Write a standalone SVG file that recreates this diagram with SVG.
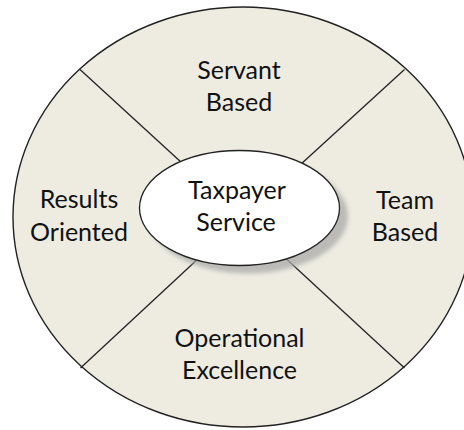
<svg xmlns="http://www.w3.org/2000/svg" width="464" height="430" viewBox="0 0 464 430">
  <defs>
    <filter id="blur" x="-20%" y="-20%" width="140%" height="140%">
      <feGaussianBlur stdDeviation="2"/>
    </filter>
  </defs>
  <style>
    .lbl { font-family: Lato, "Open Sans", "Liberation Sans", sans-serif; font-size: 25px; fill: #111; text-anchor: middle; }
    .edge { stroke: #222; stroke-width: 1.3; fill: none; }
  </style>
  <rect width="464" height="430" fill="#ffffff"/>
  <g id="outer">
    <ellipse cx="243" cy="217" rx="230" ry="210" fill="#EEECE1" stroke="#222" stroke-width="1.4"/>
  </g>
  <g id="connectors">
    <line class="edge" x1="80" y1="69.5" x2="242" y2="218"/>
    <line class="edge" x1="404.5" y1="69.5" x2="242" y2="218"/>
    <line class="edge" x1="80.5" y1="368" x2="242" y2="218"/>
    <line class="edge" x1="404.5" y1="368" x2="242" y2="218"/>
  </g>
  <g id="center">
    <ellipse cx="248" cy="216" rx="100" ry="57.5" fill="#aaaaaa" opacity="0.75" filter="url(#blur)"/>
    <ellipse cx="239.5" cy="208" rx="100" ry="57.5" fill="#ffffff" stroke="#222" stroke-width="1.3"/>
    <text class="lbl" x="237" y="199">Taxpayer</text>
    <text class="lbl" x="236" y="231">Service</text>
  </g>
  <g id="servant">
    <text class="lbl" x="239" y="79">Servant</text>
    <text class="lbl" x="239" y="111">Based</text>
  </g>
  <g id="results">
    <text class="lbl" x="79" y="208">Results</text>
    <text class="lbl" x="79" y="241">Oriented</text>
  </g>
  <g id="team">
    <text class="lbl" x="405" y="209">Team</text>
    <text class="lbl" x="405" y="241">Based</text>
  </g>
  <g id="operational">
    <text class="lbl" x="239.5" y="347">Operational</text>
    <text class="lbl" x="239.5" y="379">Excellence</text>
  </g>
</svg>
